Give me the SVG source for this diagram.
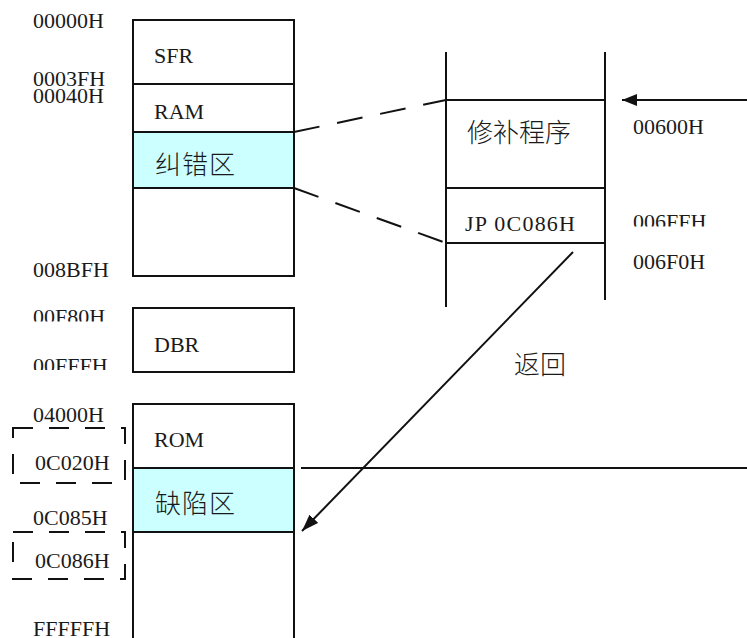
<svg xmlns="http://www.w3.org/2000/svg" width="747" height="638" viewBox="0 0 747 638">
<style>
.bg{fill:#ffffff}
.box{fill:#ffffff;stroke:#111;stroke-width:2}
.hl{fill:#ccffff;stroke:#111;stroke-width:2}
.ln{stroke:#111;stroke-width:2;fill:none}
.dash{stroke:#111;stroke-width:2;fill:none;stroke-dasharray:26 18}
.brk{stroke:#111;stroke-width:2;fill:none;stroke-dasharray:20 16}
.t{font-family:"Liberation Serif","Times New Roman",serif;font-size:22px;fill:#1a1a1a}
.c{font-family:"Noto Sans CJK SC","Noto Sans",sans-serif;font-size:26px;fill:#1a1a1a;font-weight:300}
</style>
<defs>
<marker id="ah" markerUnits="userSpaceOnUse" markerWidth="16" markerHeight="12" refX="15" refY="6" orient="auto">
<path d="M0,0 L15,6 L0,12 z" fill="#111"/>
</marker>
<marker id="ah2" markerUnits="userSpaceOnUse" markerWidth="18" markerHeight="12" refX="17" refY="6" orient="auto">
<path d="M0,0 L17,6 L0,12 z" fill="#111"/>
</marker>
<clipPath id="cp1"><rect x="0" y="290" width="130" height="31.5"/></clipPath>
<clipPath id="cp2"><rect x="0" y="340" width="130" height="30"/></clipPath>
<clipPath id="cp3"><rect x="615" y="195" width="132" height="31.5"/></clipPath>
</defs>
<rect class="bg" x="0" y="0" width="747" height="638"/>

<g id="ram-block">
<rect class="box" x="133" y="20" width="161" height="256"/>
<rect class="hl" x="133" y="132" width="161" height="56"/>
<line class="ln" x1="133" y1="84" x2="294" y2="84"/>
<text class="t" x="154" y="63">SFR</text>
<text class="t" x="154" y="119">RAM</text>
<text class="c" x="155" y="174" letter-spacing="1">纠错区</text>
</g>

<g id="dbr-block">
<rect class="box" x="133" y="308" width="161" height="64"/>
<text class="t" x="154" y="352">DBR</text>
</g>

<g id="rom-block">
<path class="ln" d="M133,645 V404 H294 V645"/>
<rect class="hl" x="133" y="468" width="161" height="64"/>
<text class="t" x="154" y="447">ROM</text>
<text class="c" x="155" y="513" letter-spacing="1">缺陷区</text>
</g>

<g id="patch-block">
<line class="ln" x1="446" y1="52" x2="446" y2="307"/>
<line class="ln" x1="605" y1="52" x2="605" y2="300"/>
<line class="ln" x1="446" y1="100" x2="605" y2="100"/>
<line class="ln" x1="446" y1="188" x2="605" y2="188"/>
<line class="ln" x1="446" y1="243" x2="605" y2="243"/>
<text class="c" x="467" y="142" font-size="24">修补程序</text>
<text class="t" x="465" y="231" textLength="110" lengthAdjust="spacing">JP 0C086H</text>
</g>

<g id="addr-left">
<text class="t" x="33" y="28">00000H</text>
<text class="t" x="33" y="86">0003FH</text>
<text class="t" x="33" y="103">00040H</text>
<text class="t" x="33" y="277">008BFH</text>
<text class="t" x="33" y="324" clip-path="url(#cp1)">00F80H</text>
<text class="t" x="33" y="373" clip-path="url(#cp2)">00FFFH</text>
<text class="t" x="33" y="422">04000H</text>
<text class="t" x="35" y="470">0C020H</text>
<text class="t" x="33" y="525">0C085H</text>
<text class="t" x="35" y="568">0C086H</text>
<text class="t" x="33" y="636">FFFFFH</text>
</g>

<g id="addr-right">
<text class="t" x="633" y="134">00600H</text>
<text class="t" x="633" y="229" clip-path="url(#cp3)">006FFH</text>
<text class="t" x="633" y="269">006F0H</text>
</g>

<g id="brackets">
<rect class="brk" x="13" y="428" width="112" height="55"/>
<rect class="brk" x="13" y="532" width="112" height="47"/>
</g>

<g id="connectors">
<line class="dash" x1="294" y1="132" x2="446" y2="100"/>
<line class="dash" x1="294" y1="188" x2="446" y2="243"/>
<line class="ln" x1="747" y1="100" x2="622" y2="100" marker-end="url(#ah)"/>
<line class="ln" x1="301" y1="468" x2="747" y2="468"/>
<line class="ln" x1="573" y1="252" x2="302" y2="531" marker-end="url(#ah2)"/>
<text class="c" x="514" y="374">返回</text>
</g>
</svg>
